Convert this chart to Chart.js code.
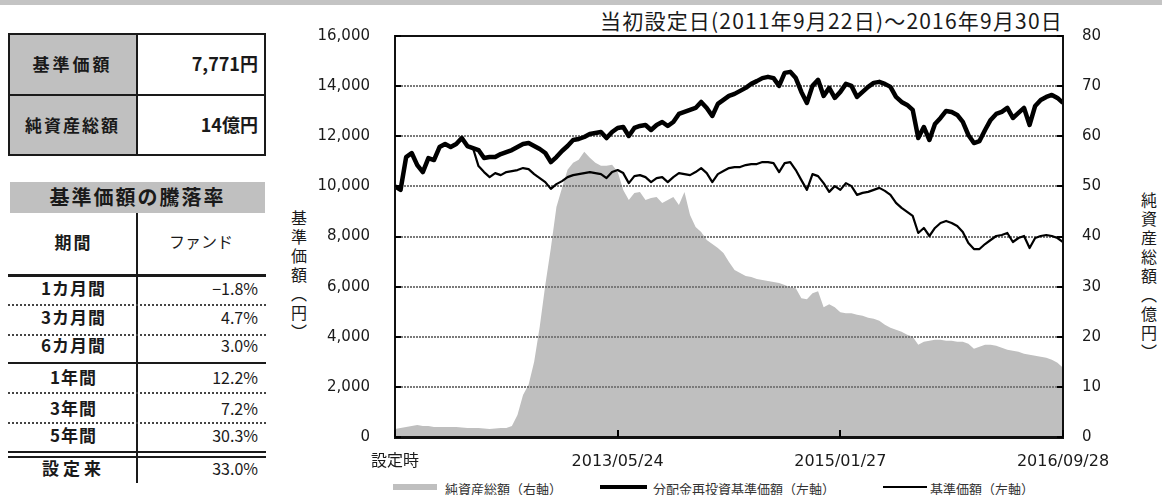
<!DOCTYPE html>
<html>
<head>
<meta charset="utf-8">
<script src="https://cdn.jsdelivr.net/npm/chart.js@4.4.0/dist/chart.umd.min.js"></script>
<style>
body { margin: 0; width: 1162px; height: 495px; position: relative; overflow: hidden; background: #fff;
       font-family: "Noto Sans CJK JP", sans-serif; color: #1a1a1a; }
.a { position: absolute; white-space: nowrap; }
.line { position: absolute; background: #1a1a1a; }
.dot { position: absolute; height: 0; border-top: 2px dotted #444; }
.cellL { position: absolute; left: 10px; width: 127px; text-align: center; font-size: 17px; font-weight: 700; letter-spacing: 1px; }
.cellR { position: absolute; left: 140px; width: 118px; text-align: right; font-size: 16px; }
.vt { position: absolute; writing-mode: vertical-rl; text-orientation: upright; font-size: 16px; letter-spacing: 3px; }
.leg { position: absolute; top: 479px; font-size: 13px; color: #333; }
</style>
</head>
<body>
<div class="a" style="left:0;top:0;width:1162px;height:5px;background:#c4c4c4"></div>

<!-- summary box -->
<div class="a" style="left:8px;top:33px;width:129px;height:123px;background:#c0c0c0"></div>
<div class="a" style="left:8px;top:33px;width:258px;height:123px;border:2px solid #1a1a1a;box-sizing:border-box"></div>
<div class="line" style="left:136px;top:33px;width:2px;height:123px"></div>
<div class="line" style="left:8px;top:94px;width:258px;height:2px"></div>
<div class="a" style="left:8px;top:51px;width:129px;text-align:center;font-size:17px;font-weight:700;letter-spacing:3px">基準価額</div>
<div class="a" style="left:140px;top:50px;width:118px;text-align:right;font-size:18px;font-weight:700">7,771円</div>
<div class="a" style="left:8px;top:112px;width:129px;text-align:center;font-size:17px;font-weight:700;letter-spacing:2px">純資産総額</div>
<div class="a" style="left:140px;top:111px;width:118px;text-align:right;font-size:18px;font-weight:700">14億円</div>

<!-- return table -->
<div class="a" style="left:10px;top:182px;width:255px;height:31px;background:#c0c0c0"></div>
<div class="a" style="left:10px;top:182px;width:255px;text-align:center;font-size:20px;font-weight:700;letter-spacing:2px">基準価額の騰落率</div>
<div class="line" style="left:136px;top:213px;width:2px;height:270px"></div>
<div class="a" style="left:10px;top:229px;width:127px;text-align:center;font-size:17px;font-weight:700;letter-spacing:2px">期間</div>
<div class="a" style="left:140px;top:229px;width:122px;text-align:center;font-size:16px">ファンド</div>
<div class="line" style="left:8px;top:274px;width:258px;height:3px"></div>
<div class="dot" style="left:8px;top:304px;width:258px"></div>
<div class="dot" style="left:8px;top:334px;width:258px"></div>
<div class="line" style="left:8px;top:362px;width:258px;height:2px"></div>
<div class="dot" style="left:8px;top:392px;width:258px"></div>
<div class="dot" style="left:8px;top:422px;width:258px"></div>
<div class="line" style="left:8px;top:451px;width:258px;height:2px"></div>
<div class="line" style="left:8px;top:456px;width:258px;height:2px"></div>
<div class="cellL" style="top:275px">1カ月間</div><div class="cellR" style="top:276px">−1.8%</div>
<div class="cellL" style="top:304px">3カ月間</div><div class="cellR" style="top:305px">4.7%</div>
<div class="cellL" style="top:332px">6カ月間</div><div class="cellR" style="top:333px">3.0%</div>
<div class="cellL" style="top:364px">1年間</div><div class="cellR" style="top:365px">12.2%</div>
<div class="cellL" style="top:395px">3年間</div><div class="cellR" style="top:396px">7.2%</div>
<div class="cellL" style="top:422px">5年間</div><div class="cellR" style="top:423px">30.3%</div>
<div class="cellL" style="top:455px;letter-spacing:4px">設定来</div><div class="cellR" style="top:456px">33.0%</div>

<!-- chart texts -->
<div class="a" style="right:99px;top:5px;font-size:21px;letter-spacing:1.2px">当初設定日(2011年9月22日)～2016年9月30日</div>
<div class="vt" style="left:287px;top:210px">基準価額（円）</div>
<div class="vt" style="left:1137px;top:192px">純資産総額（億円）</div>

<div class="a" style="left:280px;top:0;width:882px;height:475px"><canvas id="navChart"></canvas></div>

<!-- legend -->
<div class="a" style="left:393px;top:484px;width:44px;height:6px;background:#bfbfbf"></div>
<div class="leg" style="left:445px">純資産総額（右軸）</div>
<div class="a" style="left:600px;top:485px;width:47px;height:4px;background:#000"></div>
<div class="leg" style="left:653px">分配金再投資基準価額（左軸）</div>
<div class="a" style="left:883px;top:486px;width:44px;height:2px;background:#000"></div>
<div class="leg" style="left:930px">基準価額（左軸）</div>

<script>
// 設定時 2011/09/22 ～ 2016/09/28, about every two weeks
const xTickLabels = ['設定時', '2013/05/24', '2015/01/27', '2016/09/28'];

// 分配金再投資基準価額 (円)
const navReinvest = [
  10000, 9860, 11170, 11330, 10850, 10570, 11130, 11050, 11570, 11690,
  11570, 11690, 11930, 11610, 11530, 11450, 11130, 11170, 11170, 11290,
  11370, 11450, 11570, 11690, 11730, 11610, 11490, 11330, 10970, 11170,
  11410, 11610, 11850, 11890, 11970, 12090, 12130, 12170, 11930, 12170,
  12330, 12370, 12010, 12330, 12410, 12450, 12250, 12450, 12570, 12410,
  12570, 12890, 12970, 13050, 13130, 13370, 13130, 12810, 13290, 13450,
  13610, 13690, 13810, 13930, 14090, 14200, 14320, 14370, 14320, 14010,
  14530, 14570, 14320, 13770, 13330, 14010, 14250, 13610, 13930, 13530,
  13770, 14090, 14010, 13570, 13770, 13970, 14130, 14170, 14090, 13970,
  13570, 13370, 13250, 13050, 11930, 12370, 11850, 12490, 12730, 13010,
  12970, 12850, 12570, 12050, 11730, 11810, 12250, 12650, 12890, 12970,
  13130, 12730, 12930, 13130, 12450, 13210, 13450, 13570, 13650, 13530,
  13330
];

// 基準価額 (円)
const nav = [
  10000, 9860, 11170, 11330, 10850, 10570, 11130, 11050, 11570, 11690,
  11570, 11690, 11930, 11610, 11530, 10810, 10570, 10370, 10530, 10450,
  10570, 10610, 10650, 10730, 10690, 10490, 10330, 10170, 9900, 10090,
  10210, 10370, 10450, 10490, 10530, 10570, 10530, 10490, 10330, 10570,
  10650, 10530, 10130, 10410, 10450, 10370, 10170, 10330, 10370, 10170,
  10370, 10530, 10490, 10450, 10570, 10730, 10530, 10170, 10490, 10610,
  10730, 10770, 10770, 10850, 10890, 10890, 10970, 10970, 10930, 10570,
  10930, 10970, 10650, 10250, 9860, 10490, 10410, 10130, 9780, 10010,
  9860, 10130, 10010, 9660, 9740, 9780, 9860, 9940, 9820, 9660,
  9340, 9140, 8980, 8820, 8140, 8340, 8020, 8340, 8540, 8620,
  8540, 8420, 8180, 7740, 7500, 7500, 7700, 7860, 8020, 8060,
  8140, 7780, 7940, 8020, 7540, 7940, 8020, 8060, 8020, 7940,
  7780
];

// 純資産総額 (億円)
const netAssets = [
  1.6, 1.8, 2.0, 2.2, 2.4, 2.2, 2.2, 2.0, 2.0, 2.0,
  2.0, 2.0, 1.9, 1.8, 1.8, 1.8, 1.7, 1.6, 1.7, 1.8,
  1.8, 2.2, 4.4, 8.4, 10.4, 15.0, 22.0, 30.3, 37.7, 45.9,
  49.7, 53.3, 54.7, 55.3, 56.9, 55.7, 54.7, 54.1, 54.1, 54.3,
  52.9, 49.3, 47.3, 48.7, 48.9, 47.3, 47.7, 47.9, 46.7, 47.3,
  47.9, 46.3, 48.9, 44.3, 41.9, 40.9, 39.3, 38.5, 37.7, 36.7,
  34.9, 33.3, 32.7, 32.1, 31.9, 31.5, 31.3, 31.1, 30.9, 30.7,
  30.3, 29.9, 29.7, 27.7, 27.5, 28.7, 29.1, 25.9, 26.5, 25.9,
  24.9, 24.7, 24.7, 24.4, 24.2, 23.8, 23.6, 23.2, 22.4, 21.8,
  21.4, 21.0, 20.4, 20.0, 18.4, 19.0, 19.2, 19.4, 19.4, 19.2,
  19.2, 19.0, 19.0, 18.6, 17.6, 18.0, 18.4, 18.4, 18.2, 17.8,
  17.4, 17.2, 17.0, 16.6, 16.4, 16.2, 16.0, 15.8, 15.4, 14.8,
  13.8
];

const toPoints = arr => arr.map((v, i) => ({ x: i, y: v }));
const lastIndex = netAssets.length - 1;
const tickFont = { family: '"DejaVu Sans", "Noto Sans CJK JP", sans-serif', size: 15 };

// dotted grid drawn just before the area dataset, tick marks on top of everything
const gridMarks = {
    id: 'gridMarks',
    beforeDatasetDraw(chart, args) {
        if (args.index !== 2) return;
        const { ctx, chartArea: ca, scales } = chart;
        ctx.save();
        ctx.fillStyle = '#7a7a7a';
        scales.y.ticks.forEach(t => {
            const py = Math.round(scales.y.getPixelForValue(t.value));
            for (let x = ca.left; x < ca.right; x += 3) {
                ctx.fillRect(x, py - 1, 2, 2);
            }
        });
        ctx.restore();
    },
    afterDraw(chart) {
        const { ctx, chartArea: ca, scales } = chart;
        ctx.save();
        ctx.fillStyle = '#000';
        scales.y.ticks.forEach(t => {
            const py = Math.round(scales.y.getPixelForValue(t.value));
            ctx.fillRect(ca.left, py - 1, 6, 2);
        });
        scales.y1.ticks.forEach(t => {
            const py = Math.round(scales.y1.getPixelForValue(t.value));
            ctx.fillRect(ca.right - 6, py - 1, 6, 2);
        });
        scales.x.ticks.forEach(t => {
            const px = Math.round(scales.x.getPixelForValue(t.value));
            ctx.fillRect(px - 1, ca.bottom - 7, 2, 7);
        });
        ctx.restore();
    }
};

new Chart(document.getElementById('navChart'), {
    type: 'line',
    data: {
        datasets: [
            {
                label: '分配金再投資基準価額(左軸)',
                data: toPoints(navReinvest),
                yAxisID: 'y',
                borderColor: '#000',
                borderWidth: 4.5,
                order: 1
            },
            {
                label: '基準価額(左軸)',
                data: toPoints(nav),
                yAxisID: 'y',
                borderColor: '#000',
                borderWidth: 2.2,
                order: 2
            },
            {
                label: '純資産総額(右軸)',
                data: toPoints(netAssets),
                yAxisID: 'y1',
                borderWidth: 0,
                backgroundColor: '#bfbfbf',
                fill: 'origin',
                order: 3
            }
        ]
    },
    plugins: [gridMarks],
    options: {
        responsive: true,
        maintainAspectRatio: false,
        animation: false,
        layout: { padding: { top: 36, left: 0, right: 0, bottom: 0 } },
        elements: {
            point: { radius: 0 },
            line: { tension: 0, borderJoinStyle: 'round' }
        },
        plugins: {
            legend: { display: false },
            tooltip: { enabled: false }
        },
        scales: {
            x: {
                type: 'linear',
                min: 0,
                max: lastIndex,
                afterFit: s => { s.height = 38; },
                ticks: {
                    stepSize: 40,
                    autoSkip: false,
                    maxRotation: 0,
                    padding: 15,
                    color: '#1a1a1a',
                    font: { family: '"DejaVu Sans", "Noto Sans CJK JP", sans-serif', size: 16 },
                    callback: v => xTickLabels[v / 40]
                },
                grid: { drawOnChartArea: false, drawTicks: false },
                border: { color: '#111', width: 3, z: 1 }
            },
            xTop: {
                type: 'linear',
                position: 'top',
                min: 0,
                max: lastIndex,
                afterFit: s => { s.height = 0; },
                ticks: { display: false },
                grid: { drawOnChartArea: false, drawTicks: false },
                border: { color: '#111', width: 2, z: 1 }
            },
            y: {
                position: 'left',
                min: 0,
                max: 16000,
                afterFit: s => { s.width = 115; },
                ticks: {
                    stepSize: 2000,
                    padding: 25,
                    color: '#1a1a1a',
                    font: tickFont,
                    callback: v => v.toLocaleString('en-US')
                },
                grid: { drawOnChartArea: false, drawTicks: false },
                border: { color: '#111', width: 2, z: 1 }
            },
            y1: {
                position: 'right',
                min: 0,
                max: 80,
                afterFit: s => { s.width = 99; },
                ticks: { stepSize: 10, padding: 19, color: '#1a1a1a', font: tickFont },
                grid: { drawOnChartArea: false, drawTicks: false },
                border: { color: '#111', width: 2, z: 1 }
            }
        }
    }
});
</script>
</body>
</html>
